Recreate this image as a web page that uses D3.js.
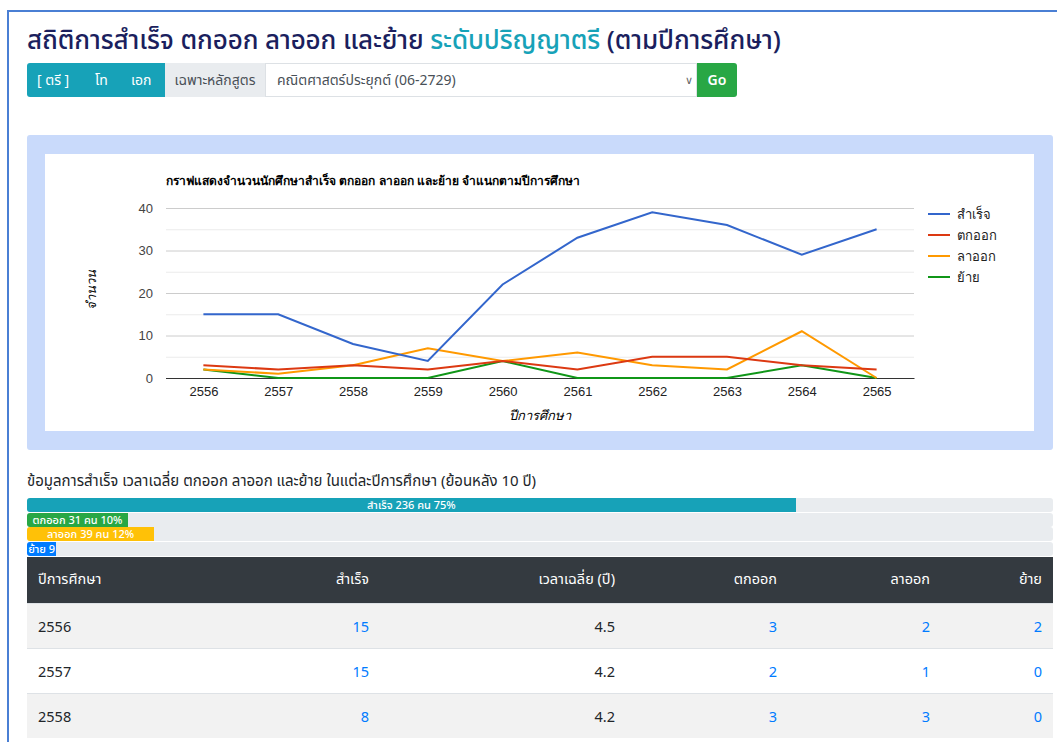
<!DOCTYPE html>
<html>
<head>
<meta charset="utf-8">
<script src="https://cdn.jsdelivr.net/npm/d3@7"></script>
<style>
  body { margin: 0; background: #fff; font-family: "Noto Sans", "Noto Sans Thai", sans-serif; }
  #page { position: absolute; left: 7px; top: 10px; width: 1060px; height: 740px; border-top: 2px solid #4a7fd4; border-left: 2px solid #4a7fd4; }
  .abs { position: absolute; }
  h1 { position: absolute; left: 27px; top: 21px; margin: 0; font-size: 26px; font-weight: 500; color: #1b1f5e; white-space: nowrap; letter-spacing: -0.1px; }
  h1 span { color: #17a2b8; }
  .btn { position: absolute; top: 63px; height: 34px; line-height: 34px; font-size: 14px; }
  table { border-collapse: collapse; font-size: 14.5px; table-layout: fixed; }
  td, th { padding: 0 11px; height: 45px; box-sizing: border-box; }
  th { background: #343a40; color: #fff; font-weight: 400; height: 46px; }
  td a { color: #007bff; text-decoration: none; }
</style>
</head>
<body>
<div id="root"></div>
<script>
var years = [2556, 2557, 2558, 2559, 2560, 2561, 2562, 2563, 2564, 2565];
var seriesNames = ["สำเร็จ", "ตกออก", "ลาออก", "ย้าย"];
var graduated = [15, 15, 8, 4, 22, 33, 39, 36, 29, 35];
var droppedOut = [3, 2, 3, 2, 4, 2, 5, 5, 3, 2];
var resigned = [2, 1, 3, 7, 4, 6, 3, 2, 11, 0];
var transferred = [2, 0, 0, 0, 4, 0, 0, 0, 3, 0];
var colors = ["#3366cc", "#dc3912", "#ff9900", "#109618"];
var yTicks = [0, 10, 20, 30, 40];

var barLabels = ["สำเร็จ 236 คน 75%", "ตกออก 31 คน 10%", "ลาออก 39 คน 12%", "ย้าย 9"];
var barCounts = [236, 31, 39, 9];
var barColors = ["#17a2b8", "#28a745", "#ffc107", "#007bff"];

var tableHead = ["ปีการศึกษา", "สำเร็จ", "เวลาเฉลี่ย (ปี)", "ตกออก", "ลาออก", "ย้าย"];
var tableYears = [2556, 2557, 2558];
var avgYears = ["4.5", "4.2", "4.2"];

var root = d3.select("#root");
root.append("div").attr("id", "page");

root.append("h1").html("สถิติการสำเร็จ ตกออก ลาออก และย้าย <span>ระดับปริญญาตรี</span> (ตามปีการศึกษา)");

// level buttons + select
root.append("div").attr("class", "btn").style("left", "27px").style("width", "138px")
    .style("background", "#17a2b8").style("color", "#fff").style("border-radius", "3px 0 0 3px")
  .selectAll("span").data(["[ ตรี ]", "โท", "เอก"])
  .enter().append("span")
    .style("position", "absolute")
    .style("left", function(d, i) { return [10, 68, 104][i] + "px"; })
    .text(function(d) { return d; });
root.append("div").attr("class", "btn").style("left", "165px").style("width", "100px")
    .style("background", "#e9ecef").style("color", "#495057").style("text-align", "center")
    .text("เฉพาะหลักสูตร");
root.append("div").attr("class", "btn").style("left", "265px").style("width", "432px")
    .style("background", "#fff").style("color", "#495057").style("padding-left", "11px")
    .style("border", "1px solid #dde1e5").style("box-sizing", "border-box").style("line-height", "32px")
    .text("คณิตศาสตร์ประยุกต์ (06-2729)")
  .append("span").style("position", "absolute").style("right", "3px").style("font-size", "11px").style("color", "#666").text("∨");
root.append("div").attr("class", "btn").style("left", "697px").style("width", "40px")
    .style("background", "#28a745").style("color", "#fff").style("text-align", "center")
    .style("border-radius", "0 3px 3px 0").style("font-weight", "600").text("Go");

// chart frame
root.append("div").attr("class", "abs").style("left", "27px").style("top", "135px")
    .style("width", "1026px").style("height", "315px").style("background", "#c9dafb").style("border-radius", "3px");

var W = 989, H = 277;
var svg = root.append("svg").attr("class", "abs")
    .style("left", "45px").style("top", "154px")
    .attr("width", W).attr("height", H)
    .style("font-family", "'Liberation Sans', Arial, sans-serif");
svg.append("rect").attr("width", W).attr("height", H).attr("fill", "#fff");

var x = d3.scalePoint().domain(years).range([121, 869]).padding(0.5);
var y = d3.scaleLinear().domain([0, 40]).range([224, 54]);

svg.append("text").attr("x", 121).attr("y", 31)
    .attr("font-size", 12).attr("font-weight", "bold").attr("fill", "#000")
    .text("กราฟแสดงจำนวนนักศึกษาสำเร็จ ตกออก ลาออก และย้าย จำแนกตามปีการศึกษา");

// minor grid
svg.append("g").selectAll("line").data([5, 15, 25, 35]).enter().append("line")
    .attr("x1", 121).attr("x2", 869)
    .attr("y1", function(d) { return y(d) + 0.5; }).attr("y2", function(d) { return y(d) + 0.5; })
    .attr("stroke", "#ebebeb");

var yAxis = svg.append("g").attr("transform", "translate(121,0)")
    .call(d3.axisLeft(y).tickValues(yTicks).tickSize(-748).tickPadding(13));
yAxis.select(".domain").remove();
yAxis.selectAll(".tick line").attr("stroke", function(d) { return d === 0 ? "#333" : "#ccc"; });
yAxis.selectAll(".tick text").attr("font-size", 13).attr("fill", "#444");

var xAxis = svg.append("g").attr("transform", "translate(0,224)")
    .call(d3.axisBottom(x).tickSize(0).tickPadding(9));
xAxis.select(".domain").attr("stroke", "#333");
xAxis.selectAll(".tick text").attr("font-size", 13).attr("fill", "#222");

var all = [graduated, droppedOut, resigned, transferred];
var line = d3.line().x(function(d, i) { return x(years[i]); }).y(function(d) { return y(d); });
// draw last series first so blue ends on top
svg.append("g").selectAll("path").data(all.slice().reverse()).enter().append("path")
    .attr("d", line).attr("fill", "none").attr("stroke-width", 2)
    .attr("stroke", function(d, i) { return colors[3 - i]; });

svg.append("text").attr("transform", "translate(51,136) rotate(-90)")
    .attr("text-anchor", "middle").attr("font-size", 13).attr("font-style", "italic").text("จำนวน");
svg.append("text").attr("x", 495).attr("y", 266)
    .attr("text-anchor", "middle").attr("font-size", 13).attr("font-style", "italic").text("ปีการศึกษา");

var leg = svg.append("g").selectAll("g").data(seriesNames).enter().append("g")
    .attr("transform", function(d, i) { return "translate(883," + (60 + i * 21) + ")"; });
leg.append("line").attr("x1", 0).attr("x2", 22).attr("stroke-width", 2)
    .attr("stroke", function(d, i) { return colors[i]; });
leg.append("text").attr("x", 29).attr("y", 5).attr("font-size", 13).attr("fill", "#222")
    .text(function(d) { return d; });

// summary bars
root.append("div").attr("class", "abs").style("left", "27px").style("top", "470px")
    .style("font-size", "15px").style("color", "#212529").style("white-space", "nowrap")
    .text("ข้อมูลการสำเร็จ เวลาเฉลี่ย ตกออก ลาออก และย้าย ในแต่ละปีการศึกษา (ย้อนหลัง 10 ปี)");

var total = d3.sum(barCounts);
var bw = d3.scaleLinear().domain([0, total]).range([0, 1026]);
var bars = root.selectAll("div.bar").data(barCounts).enter().append("div")
    .attr("class", "bar abs")
    .style("left", "27px").style("top", function(d, i) { return (498 + i * 14.5) + "px"; })
    .style("width", "1026px").style("height", "14px").style("background", "#e9ecef")
    .style("border-radius", "3px").style("overflow", "hidden");
bars.append("div")
    .style("width", function(d) { return bw(d) + "px"; }).style("height", "14px")
    .style("background", function(d, i) { return barColors[i]; })
    .style("color", "#fff").style("font-size", "11px").style("font-weight", "500").style("line-height", "14px")
    .style("text-align", "center").style("white-space", "nowrap").style("overflow", "hidden")
    .text(function(d, i) { return barLabels[i]; });

// table
var rows = tableYears.map(function(yr, k) {
  var i = years.indexOf(yr);
  return [yr, graduated[i], avgYears[k], droppedOut[i], resigned[i], transferred[i]];
});
var colW = [200, 153, 246, 162, 153, 112];
var tbl = root.append("table").attr("class", "abs").style("left", "27px").style("top", "557px").style("width", "1026px");
tbl.append("tr").selectAll("th").data(tableHead).enter().append("th")
    .style("text-align", function(d, i) { return i === 0 ? "left" : "right"; })
    .style("width", function(d, i) { return colW[i] + "px"; })
    .text(function(d) { return d; });
var tr = tbl.selectAll("tr.r").data(rows).enter().append("tr").attr("class", "r")
    .style("background", function(d, i) { return i % 2 === 0 ? "#f2f2f2" : "#fff"; })
    .style("border-top", "1px solid #dee2e6");
tr.selectAll("td").data(function(d) { return d; }).enter().append("td")
    .style("text-align", function(d, i) { return i === 0 ? "left" : "right"; })
    .style("color", "#212529")
    .html(function(d, i) { return (i === 0 || i === 2) ? d : "<a>" + d + "</a>"; });
</script>
</body>
</html>
